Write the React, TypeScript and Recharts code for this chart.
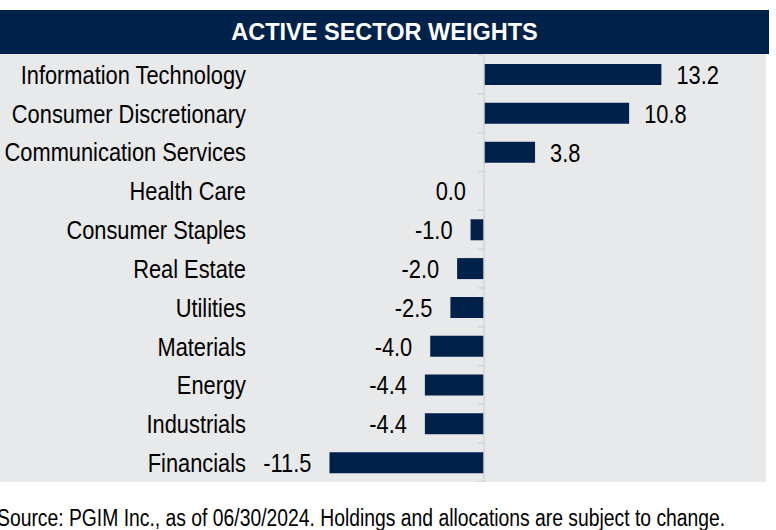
import { BarChart, Bar, XAxis, YAxis, ReferenceLine, LabelList } from "recharts";

const sectors = [
  "Information Technology",
  "Consumer Discretionary",
  "Communication Services",
  "Health Care",
  "Consumer Staples",
  "Real Estate",
  "Utilities",
  "Materials",
  "Energy",
  "Industrials",
  "Financials",
];

const weights = [13.2, 10.8, 3.8, 0.0, -1.0, -2.0, -2.5, -4.0, -4.4, -4.4, -11.5];

const xDomain = [-16, 16];

const data = sectors.map((name, i) => ({ name, value: weights[i] }));

const NAVY = "#00214a";
const FONT = "'Liberation Sans', Arial, sans-serif";
// no narrow font installed, so squeeze the regular one
const SQUEEZE = 0.84;

function NarrowText({ x, y, anchor, children }: any) {
  return (
    <text
      transform={`translate(${x},${y}) scale(${SQUEEZE},1)`}
      x={0}
      y={0}
      dy="0.36em"
      textAnchor={anchor}
      fontSize={26}
      fontFamily={FONT}
      fill="#000"
    >
      {children}
    </text>
  );
}

function CategoryTick(props: any) {
  const { x, y, payload } = props;
  return <NarrowText x={x} y={y} anchor="end">{payload.value}</NarrowText>;
}

// zero line with little ticks between categories
function ZeroAxis(props: any) {
  const { x1, y1, x2, y2 } = props;
  const n = sectors.length;
  const step = (y2 - y1) / n;
  const ticks = [];
  for (let i = 0; i <= n; i++) {
    const y = y1 + i * step;
    ticks.push(<line key={i} x1={x1 - 6} y1={y} x2={x1} y2={y} stroke="#d2d3d6" strokeWidth={1.5} />);
  }
  return (
    <g>
      <line x1={x1} y1={y1} x2={x2} y2={y2} stroke="#d2d3d6" strokeWidth={1.5} />
      {ticks}
    </g>
  );
}

function ValueLabel(props: any) {
  const { x, y, width, height, value } = props;
  const left = Math.min(x, x + width);
  const right = Math.max(x, x + width);
  const pos = value > 0;
  return (
    <NarrowText x={pos ? right + 15 : left - 18} y={y + height / 2} anchor={pos ? "start" : "end"}>
      {Number(value).toFixed(1)}
    </NarrowText>
  );
}

export default function App() {
  return (
    <div style={{ position: "absolute", left: 0, top: 0, width: 776, height: 530, overflow: "hidden", background: "#fff" }}>
      <div
        style={{
          position: "absolute",
          left: 0,
          top: 10,
          width: 769,
          height: 44,
          background: NAVY,
          color: "#fff",
          fontFamily: FONT,
          fontWeight: "bold",
          fontSize: 23.5,
          lineHeight: "44px",
          textAlign: "center",
        }}
      >
        ACTIVE SECTOR WEIGHTS
      </div>
      <div style={{ position: "absolute", left: 0, top: 54, width: 766, height: 428, background: "#e8e9eb" }} />
      <div style={{ position: "absolute", left: 0, top: 54 }}>
        <BarChart
          width={766}
          height={428}
          data={data}
          layout="vertical"
          margin={{ top: 1, right: 67, bottom: 0, left: 0 }}
        >
          <XAxis type="number" domain={xDomain} hide />
          <YAxis
            type="category"
            dataKey="name"
            width={269}
            axisLine={false}
            tickLine={false}
            tickMargin={17}
            interval={0}
            tick={<CategoryTick />}
          />
          <ReferenceLine x={0} shape={ZeroAxis} />
          <Bar dataKey="value" fill={NAVY} barSize={21} minPointSize={0.01} isAnimationActive={false}>
            <LabelList dataKey="value" content={ValueLabel} />
          </Bar>
        </BarChart>
      </div>
      <div
        style={{
          position: "absolute",
          left: -3,
          top: 505,
          whiteSpace: "nowrap",
          fontFamily: FONT,
          fontSize: 23,
          lineHeight: "26px",
          color: "#000",
          transform: `scaleX(${SQUEEZE})`,
          transformOrigin: "0 0",
        }}
      >
        Source: PGIM Inc., as of 06/30/2024. Holdings and allocations are subject to change.
      </div>
    </div>
  );
}
